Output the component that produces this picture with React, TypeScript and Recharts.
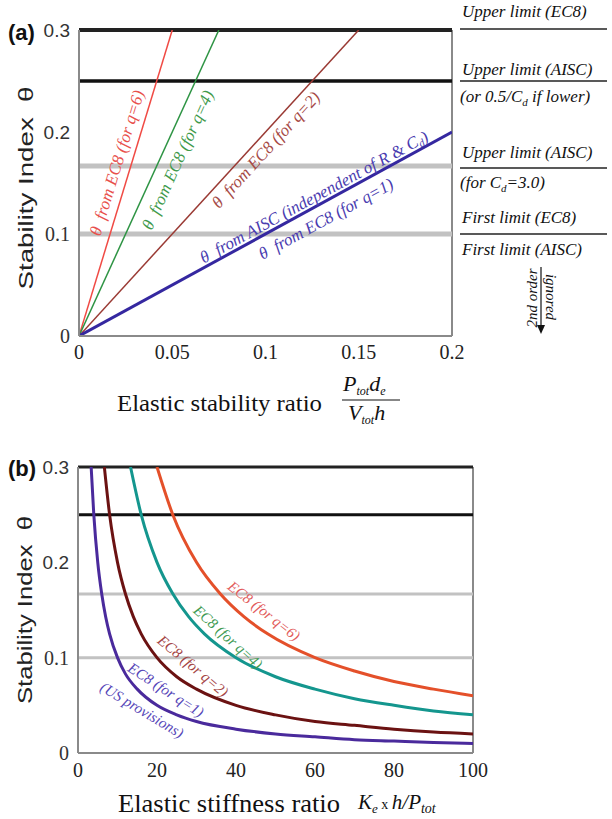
import React from 'react'
import { LineChart, Line, XAxis, YAxis, ReferenceLine } from 'recharts'

// (a) theta vs elastic stability ratio
const aRatio_q6 = [0, 0.05]
const aTheta_q6 = [0, 0.3]
const aRatio_q4 = [0, 0.075]
const aTheta_q4 = [0, 0.3]
const aRatio_q2 = [0, 0.15]
const aTheta_q2 = [0, 0.3]
const aRatio_q1 = [0, 0.2]
const aTheta_q1 = [0, 0.2]
const aXTicks = [0, 0.05, 0.1, 0.15, 0.2]

// (b) theta vs elastic stiffness ratio
const bK_q1 = [3.33, 4, 5, 6, 7, 8, 10, 12, 15, 20, 25, 30, 40, 50, 60, 70, 80, 90, 100]
const bTheta_q1 = [0.3, 0.25, 0.2, 0.167, 0.143, 0.125, 0.1, 0.083, 0.067, 0.05, 0.04, 0.033, 0.025, 0.02, 0.017, 0.014, 0.0125, 0.011, 0.01]
const bK_q2 = [6.67, 8, 10, 12, 14, 16, 20, 25, 30, 40, 50, 60, 70, 80, 90, 100]
const bTheta_q2 = [0.3, 0.25, 0.2, 0.167, 0.143, 0.125, 0.1, 0.08, 0.067, 0.05, 0.04, 0.033, 0.029, 0.025, 0.022, 0.02]
const bK_q4 = [13.3, 16, 20, 24, 28, 32, 40, 50, 60, 70, 80, 90, 100]
const bTheta_q4 = [0.3, 0.25, 0.2, 0.167, 0.143, 0.125, 0.1, 0.08, 0.067, 0.057, 0.05, 0.044, 0.04]
const bK_q6 = [20, 24, 30, 36, 42, 48, 60, 70, 80, 90, 100]
const bTheta_q6 = [0.3, 0.25, 0.2, 0.167, 0.143, 0.125, 0.1, 0.086, 0.075, 0.067, 0.06]
const bXTicks = [0, 20, 40, 60, 80, 100]

const yTicks = [0, 0.1, 0.2, 0.3]
const upperEC8 = 0.3
const upperAISC = 0.25
const upperAISCcd3 = 0.1667
const firstLimit = 0.1

const pts = (xs: number[], ys: number[]) => xs.map((x, i) => ({ x, y: ys[i] }))

const SERIF = 'Liberation Serif, Times New Roman, serif'
const SANS = 'Liberation Sans, Arial, sans-serif'
const AXIS = '#8a8a8a'

function YTick(props: any) {
  const { x, y, payload } = props
  const sans = payload.value >= 0.2
  return (
    <text x={x} y={y} textAnchor="end" dominantBaseline="central" fontSize={sans ? 19 : 20}
      fontFamily={sans ? SANS : SERIF} fill="#333">
      {String(payload.value)}
    </text>
  )
}

const xTickStyle = { fontSize: 20, fontFamily: SERIF, fill: '#222' }

function ChartA() {
  return (
    <LineChart width={612} height={440} margin={{ top: 30, right: 160, bottom: 74, left: 39 }}>
      <XAxis type="number" dataKey="x" domain={[0, 0.2]} ticks={aXTicks} height={30}
        axisLine={{ stroke: AXIS, strokeWidth: 2 }} tickLine={false} tickSize={0} tickMargin={9}
        tick={xTickStyle} tickFormatter={(v) => String(v)} allowDataOverflow />
      <YAxis type="number" dataKey="y" domain={[0, 0.3]} ticks={yTicks} width={40}
        axisLine={{ stroke: AXIS, strokeWidth: 2 }} tickLine={false} tickSize={0} tickMargin={9}
        tick={(p: any) => <YTick {...p} />} allowDataOverflow />
      <ReferenceLine x={0.2} stroke={AXIS} strokeWidth={2} />
      <ReferenceLine y={firstLimit} stroke="#c2c2c2" strokeWidth={5} />
      <ReferenceLine y={upperAISCcd3} stroke="#c2c2c2" strokeWidth={5} />
      <ReferenceLine y={upperAISC} stroke="#111" strokeWidth={3.5} />
      <ReferenceLine y={upperEC8} stroke="#222" strokeWidth={4} />
      <Line data={pts(aRatio_q6, aTheta_q6)} dataKey="y" type="linear" stroke="#f04a44" strokeWidth={1.5} dot={false} isAnimationActive={false} />
      <Line data={pts(aRatio_q4, aTheta_q4)} dataKey="y" type="linear" stroke="#2e9444" strokeWidth={1.5} dot={false} isAnimationActive={false} />
      <Line data={pts(aRatio_q2, aTheta_q2)} dataKey="y" type="linear" stroke="#9a3a34" strokeWidth={1.5} dot={false} isAnimationActive={false} />
      <Line data={pts(aRatio_q1, aTheta_q1)} dataKey="y" type="linear" stroke="#3528a0" strokeWidth={3} dot={false} isAnimationActive={false} />
    </LineChart>
  )
}

function ChartB() {
  return (
    <LineChart width={612} height={379} margin={{ top: 27, right: 139, bottom: 36, left: 38 }}>
      <XAxis type="number" dataKey="x" domain={[0, 100]} ticks={bXTicks} height={30}
        axisLine={{ stroke: AXIS, strokeWidth: 2 }} tickLine={false} tickSize={0} tickMargin={10}
        tick={xTickStyle} allowDataOverflow />
      <YAxis type="number" dataKey="y" domain={[0, 0.3]} ticks={yTicks} width={40}
        axisLine={{ stroke: AXIS, strokeWidth: 2 }} tickLine={false} tickSize={0} tickMargin={9}
        tick={(p: any) => <YTick {...p} />} allowDataOverflow />
      <ReferenceLine x={100} stroke={AXIS} strokeWidth={2} />
      <ReferenceLine y={firstLimit} stroke="#c2c2c2" strokeWidth={3} />
      <ReferenceLine y={upperAISCcd3} stroke="#c2c2c2" strokeWidth={3} />
      <ReferenceLine y={upperAISC} stroke="#111" strokeWidth={3} />
      <ReferenceLine y={upperEC8} stroke="#222" strokeWidth={3} />
      <Line data={pts(bK_q6, bTheta_q6)} dataKey="y" type="monotone" stroke="#e4502a" strokeWidth={3} dot={false} isAnimationActive={false} />
      <Line data={pts(bK_q4, bTheta_q4)} dataKey="y" type="monotone" stroke="#14968e" strokeWidth={3} dot={false} isAnimationActive={false} />
      <Line data={pts(bK_q2, bTheta_q2)} dataKey="y" type="monotone" stroke="#6b1212" strokeWidth={3} dot={false} isAnimationActive={false} />
      <Line data={pts(bK_q1, bTheta_q1)} dataKey="y" type="monotone" stroke="#4a2a9c" strokeWidth={3} dot={false} isAnimationActive={false} />
    </LineChart>
  )
}

// rotated label helper
function Lbl({ x, y, a, c, s = 16, children }: any) {
  return (
    <text x={x} y={y} transform={`rotate(${a} ${x} ${y})`} textAnchor="middle" dominantBaseline="central"
      fontFamily={SERIF} fontStyle="italic" fontSize={s} fill={c}>
      {children}
    </text>
  )
}

function Notes() {
  const it = { fontFamily: SERIF, fontStyle: 'italic' as const, fontSize: 17, fill: '#111' }
  return (
    <svg width={612} height={819} style={{ position: 'absolute', left: 0, top: 0, pointerEvents: 'none' }}>
      {/* panel tags */}
      <text x={8} y={40} fontFamily={SANS} fontWeight="bold" fontSize={22} fill="#111">(a)</text>
      <text x={8} y={476} fontFamily={SANS} fontWeight="bold" fontSize={22} fill="#111">(b)</text>

      {/* y titles */}
      <text x={25} y={188} transform="rotate(-90 25 188)" textAnchor="middle" dominantBaseline="central"
        fontFamily={SANS} fontSize={21} fill="#222" textLength={203} lengthAdjust="spacingAndGlyphs">
        Stability Index{'\u00a0\u00a0'}θ
      </text>
      <text x={25} y={610} transform="rotate(-90 25 610)" textAnchor="middle" dominantBaseline="central"
        fontFamily={SANS} fontSize={20} fill="#222" textLength={188} lengthAdjust="spacingAndGlyphs">
        Stability Index{'\u00a0\u00a0'}θ
      </text>

      {/* x title (a) */}
      <text x={117} y={411} fontFamily={SERIF} fontSize={24} fill="#111" textLength={205} lengthAdjust="spacingAndGlyphs">
        Elastic stability ratio
      </text>
      <text x={343} y={391} fontFamily={SERIF} fontStyle="italic" fontSize={22} fill="#111">
        P<tspan dy={4} fontSize={12}>tot</tspan><tspan dy={-4}>d</tspan><tspan dy={4} fontSize={12}>e</tspan>
      </text>
      <line x1={342} x2={400} y1={400} y2={400} stroke="#111" strokeWidth={1.2} />
      <text x={348} y={420} fontFamily={SERIF} fontStyle="italic" fontSize={22} fill="#111">
        V<tspan dy={4} fontSize={12}>tot</tspan><tspan dy={-4}>h</tspan>
      </text>

      {/* x title (b) */}
      <text x={118} y={812} fontFamily={SERIF} fontSize={25} fill="#111" textLength={222} lengthAdjust="spacingAndGlyphs">
        Elastic stiffness ratio
      </text>
      <text x={358} y={809} fontFamily={SERIF} fontStyle="italic" fontSize={21} fill="#111">
        K<tspan dy={4} fontSize={13}>e</tspan><tspan dy={-4} fontSize={14} fontStyle="normal">{'\u00a0x\u00a0'}</tspan><tspan>h/P</tspan><tspan dy={4} fontSize={14}>tot</tspan>
      </text>

      {/* right-side limits (a) */}
      <text x={462} y={17} {...it}>Upper limit (EC8)</text>
      <line x1={460} x2={607} y1={29} y2={29} stroke="#222" strokeWidth={1.5} />
      <text x={462} y={75} {...it}>Upper limit (AISC)</text>
      <line x1={460} x2={607} y1={81} y2={81} stroke="#222" strokeWidth={1.5} />
      <text x={460} y={102} {...it}>(or 0.5/C<tspan dy={4} fontSize={11}>d</tspan><tspan dy={-4}> if lower)</tspan></text>
      <text x={462} y={158} {...it}>Upper limit (AISC)</text>
      <line x1={460} x2={607} y1={168} y2={168} stroke="#222" strokeWidth={1.5} />
      <text x={460} y={188} {...it}>(for C<tspan dy={4} fontSize={11}>d</tspan><tspan dy={-4}>=3.0)</tspan></text>
      <text x={462} y={223} {...it}>First limit (EC8)</text>
      <line x1={460} x2={607} y1={234} y2={234} stroke="#222" strokeWidth={1.5} />
      <text x={462} y={255} {...it}>First limit (AISC)</text>

      <text x={532} y={298} transform="rotate(-90 532 298)" textAnchor="middle" dominantBaseline="central"
        fontFamily={SERIF} fontStyle="italic" fontSize={15} fill="#111">2nd order</text>
      <text x={551} y={297} transform="rotate(90 551 297)" textAnchor="middle" dominantBaseline="central"
        fontFamily={SERIF} fontStyle="italic" fontSize={15} fill="#111">ignored</text>
      <line x1={541} x2={541} y1={267} y2={326} stroke="#111" strokeWidth={1.2} />
      <polygon points="537,325 545,325 541,334" fill="#111" />

      {/* line labels (a) */}
      <Lbl x={117} y={163} a={-73} c="#e8504c" s={17}>θ{'\u00a0 '}from EC8 (for q=6)</Lbl>
      <Lbl x={178} y={160} a={-65.6} c="#3f9a4c" s={17}>θ{'\u00a0 '}from EC8 (for q=4)</Lbl>
      <Lbl x={266} y={150} a={-47.5} c="#a64a46" s={17}>θ{'\u00a0 '}from EC8 (for q=2)</Lbl>
      <Lbl x={314} y={197} a={-28.7} c="#4a3cb0" s={17}>
        θ{'\u00a0 '}from AISC (independent of R &amp; C<tspan dy={4} fontSize={11}>d</tspan><tspan dy={-4}>)</tspan>
      </Lbl>
      <Lbl x={326} y={219} a={-28.7} c="#4a3cb0" s={17}>θ{'\u00a0 '}from EC8 (for q=1)</Lbl>

      {/* curve labels (b) */}
      <Lbl x={264} y={611} a={38} c="#e25a5a" s={15}>EC8 (for q=6)</Lbl>
      <Lbl x={228} y={637} a={42} c="#3e9a52" s={15}>EC8 (for q=4)</Lbl>
      <Lbl x={193} y={666} a={40} c="#a44444" s={15}>EC8 (for q=2)</Lbl>
      <Lbl x={166} y={690} a={33} c="#5646b8" s={15}>EC8 (for q=1)</Lbl>
      <Lbl x={142} y={710} a={31} c="#5646b8" s={15}>(US provisions)</Lbl>
    </svg>
  )
}

export default function App() {
  return (
    <div style={{ position: 'absolute', left: 0, top: 0, width: 612, height: 819, background: '#fff' }}>
      <div style={{ position: 'absolute', left: 0, top: 0 }}>
        <ChartA />
      </div>
      <div style={{ position: 'absolute', left: 0, top: 440 }}>
        <ChartB />
      </div>
      <Notes />
    </div>
  )
}
